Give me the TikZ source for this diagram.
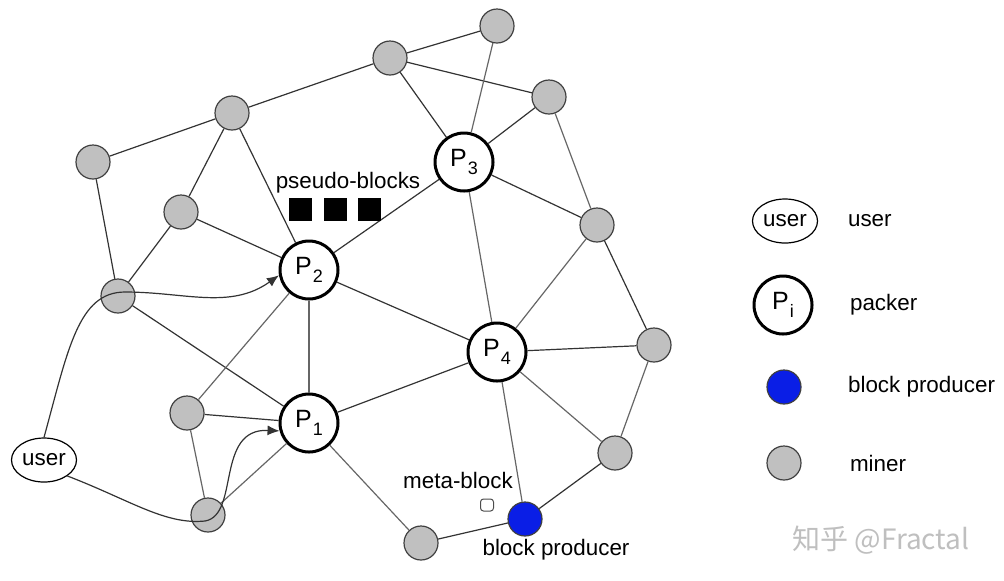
\documentclass[tikz,border=0pt]{standalone}
\usepackage{fontspec}
\setmainfont{Liberation Sans}
\newfontfamily\cjkfont{Noto Sans CJK SC}
\usetikzlibrary{shapes.geometric,positioning,arrows.meta}
\definecolor{minergray}{RGB}{192,192,192}
\definecolor{prodblue}{RGB}{10,30,230}
\newcommand{\pk}[1]{P\kern0.5pt\raisebox{-0.55ex}{\fontsize{9}{9}\selectfont #1}}

\begin{document}
\begin{tikzpicture}[x=0.5pt,y=-0.5pt,
	font=\fontsize{11.2}{13}\selectfont,
	miner/.style={
		circle,
		draw=black!75, fill=minergray,
		line width=0.6pt,
		minimum size=17pt, inner sep=0pt
	},
	producer/.style={
		miner, fill=prodblue
	},
	packer/.style={
		circle,
		draw, fill=white,
		line width=1.5pt,
		minimum size=29pt, inner sep=0pt,
		font=\fontsize{12.5}{13}\selectfont
	},
	usr/.style={
		ellipse,
		draw, line width=0.6pt,
		minimum width=32.5pt, minimum height=22pt, inner sep=0pt
	},
	blk/.style={
		rectangle, fill=black,
		minimum size=11.5pt, inner sep=0pt
	},
	link/.style={
		draw=black!80, line width=0.6pt
	},
	thinlink/.style={
		draw=black!60, line width=0.6pt
	}
	]
	\useasboundingbox (0,0) rectangle (1004,580);
	
	% miners
	\node[miner] (g1) at (93,162) {};
	\node[miner] (g2) at (232,113) {};
	\node[miner] (g3) at (390,58) {};
	\node[miner] (g4) at (497,26) {};
	\node[miner] (g5) at (549,97) {};
	\node[miner] (g6) at (181,212) {};
	\node[miner] (g7) at (597,225) {};
	\node[miner] (g8) at (118,296) {};
	\node[miner] (g9) at (654,345) {};
	\node[miner] (g10) at (187,413) {};
	\node[miner] (g11) at (615,453) {};
	\node[miner] (g12) at (208,515) {};
	\node[miner] (g13) at (421,543) {};
	
	% packers
	\node[packer] (p1) at (309,423) {\pk{1}};
	\node[packer] (p2) at (309,270) {\pk{2}};
	\node[packer] (p3) at (464,162) {\pk{3}};
	\node[packer] (p4) at (497,352) {\pk{4}};
	
	\node[producer] (bp) at (525,519) {};
	\node[usr] (user) at (44,460) {user};
	
	\foreach \a/\b in {g1/g2, g1/g8, g2/g3, g2/g6, g2/p2, g6/p2, g6/g8,
		g3/g4, g3/g5, g3/p3, g5/p3, p3/g7, p3/p2,
		g7/g9, p4/g9, p4/p2, p4/p1, g11/bp, bp/g13,
		g10/p1, g8/p1}
	\draw[link] (\a) -- (\b);
	\foreach \a/\b in {g4/p3, g5/g7, p3/p4, g7/p4, g9/g11, p4/g11, p4/bp,
		p1/g13, p2/p1, p2/g10, g10/g12, g12/p1}
	\draw[thinlink] (\a) -- (\b);
	
	% transactions sent by the user
	\draw[link,-{Latex[length=6pt,width=5pt]}] (user.north) .. controls (68,350) and (78,292) .. (125,292)
		.. controls (185,292) and (230,310) .. (p2.190);
	\draw[link,-{Latex[length=6pt,width=5pt]}] (user.south east) .. controls (130,500) and (165,525) .. (205,521)
		.. controls (240,515) and (215,428) .. (p1.195);
	
	% blocks
	\node[blk] (pb2) at (335,209) {};
	\node[blk,left=5.5pt of pb2] (pb1) {};
	\node[blk,right=5.5pt of pb2] (pb3) {};
	\node (pbtxt) at (348,183) {pseudo-blocks};
	\node[draw=black!70, rounded corners=1.5pt, line width=0.5pt,
		minimum width=6.5pt, minimum height=6pt, inner sep=0pt] (mb) at (487,505) {};
	\node (mbtxt) at (458,480) {meta-block};
	\node (bptxt) at (556,550) {block producer};
	
	% legend
	\node[usr] (leguser) at (785,221) {user};
	\node[packer] (legpacker) at (783,305) {\pk{i}};
	\node[producer] (legprod) at (784,387) {};
	\node[miner] (legminer) at (784,463) {};
	\node[anchor=west] (lt1) at (841,221) {user};
	\node[anchor=west] (lt2) at (843,305) {packer};
	\node[anchor=west] (lt3) at (841,387) {block producer};
	\node[anchor=west] (lt4) at (843,463) {miner};
	
	\node[text=black!25, font=\cjkfont\fontsize{14}{15}\selectfont] (wm) at (881,540) {知乎 @Fractal};
\end{tikzpicture}
\end{document}
